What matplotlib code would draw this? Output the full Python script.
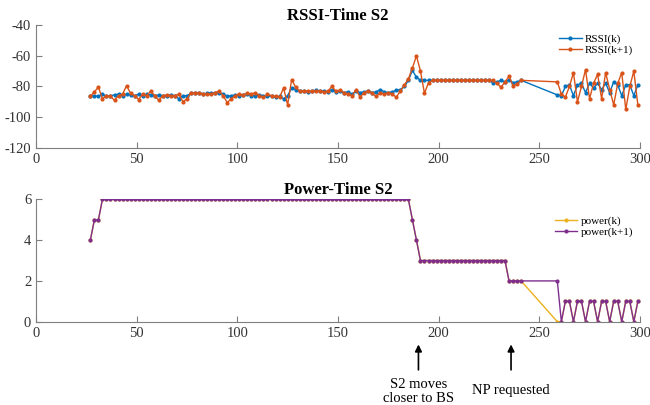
import numpy as np
import matplotlib
matplotlib.use("Agg")
import matplotlib.pyplot as plt

plt.rcParams['font.family'] = ['Liberation Serif', 'DejaVu Serif']
plt.rcParams['axes.unicode_minus'] = False

# ---- time samples ----
t = list(range(27, 242, 2)) + list(range(259, 300, 2))

# ---- RSSI(k) ----
rssi_k = [
    -86.5, -86, -86.5, -85, -86.5, -86, -85.5, -85, -86, -85,      # 27-45
    -85.5, -86, -85, -86, -85, -85.5, -86, -85.5, -86, -86,        # 47-65
    -85.5, -86, -88, -86, -86, -84.5, -84, -84, -85, -84.5,        # 67-85
    -84, -84.5, -84, -85, -86.5, -86, -85.5, -86, -85.5, -85,      # 87-105
    -86, -86, -85.5, -86, -86.5, -86, -87, -86.5, -88, -86,        # 107-125
    -81, -82, -83, -83, -83.5, -83, -82.5, -83, -83, -83.5,        # 127-145
    -82, -83.5, -83, -84, -83.5, -85, -83, -84, -83.5, -83,        # 147-165
    -84, -83.5, -82, -83.5, -84, -83.5, -82.5, -82, -80, -76,      # 167-185
    -69.5, -74, -76, -76, -76, -76, -76, -76, -76, -76,            # 187-205
    -76, -76, -76, -76, -76, -76, -76, -76, -76, -76,              # 207-225
    -77.5, -77, -76, -77, -76, -77.5, -77, -76,                    # 227-241
    -85.5, -86, -80, -79, -86, -79, -78, -84, -78, -81,            # 259-277
    -78, -82, -78, -84, -77, -79, -86, -79, -79, -86, -79,         # 279-299
]

# ---- RSSI(k+1) ----
rssi_k1 = [
    -86.5, -83.5, -80.5, -88, -86, -86.5, -89, -86, -85, -79.5,    # 27-45
    -84.5, -86, -88.5, -85, -86, -83, -86, -89, -86, -85.5,        # 47-65
    -86, -86, -85, -90, -88, -84, -84.5, -84, -85, -85,            # 67-85
    -85, -84, -83, -86, -90.5, -88, -86, -85, -85.5, -84.5,        # 87-105
    -85, -84, -86, -87, -85, -86, -86.5, -87, -81, -92,            # 107-125
    -75.5, -80.5, -83, -83, -83, -83, -83, -83, -83.5, -83,        # 127-145
    -80, -83, -82.5, -84, -85, -86, -82, -87, -84, -83,            # 147-165
    -84.5, -86.5, -84, -85, -84, -85, -87, -83, -79, -75,          # 167-185
    -68, -60, -70, -84.5, -77.5, -76, -76, -76, -76, -76,          # 187-205
    -76, -76, -76, -76, -76, -76, -76, -76, -76, -76,              # 207-225
    -76, -78, -80.5, -77, -73.5, -79.5, -78.5, -76,                # 227-241
    -77, -85, -87, -80, -71, -90, -80, -69, -88, -78,              # 259-277
    -72, -88, -71, -82, -92, -78, -71, -95, -80, -70, -92,         # 279-299
]

# ---- power(k+1) ----
power_k1 = ([4, 5, 5] + [6] * 77 + [5, 4] + [3] * 22 + [2] * 4 +
            [2, 0, 1, 1, 0, 1, 1, 0, 1, 1, 0, 1, 1, 0, 1, 1, 0, 1, 1, 0, 1])
# ---- power(k) ----
power_k = list(power_k1)
power_k[t.index(259)] = 0

BLUE = '#0072BD'
ORANGE = '#D95319'
YELLOW = '#EDB120'
PURPLE = '#7E2F8E'
SPINE = '#7f7f7f'
TXT = '#333333'

fig = plt.figure(figsize=(6.5, 4.05), dpi=100)
ax1 = fig.add_axes([0.0554, 0.635, 0.929, 0.303])
ax2 = fig.add_axes([0.0554, 0.2057, 0.929, 0.302])

def style(ax):
    for s in ['top', 'right']:
        ax.spines[s].set_visible(False)
    for s in ['left', 'bottom']:
        ax.spines[s].set_color(SPINE)
        ax.spines[s].set_linewidth(0.8)
    ax.tick_params(direction='in', length=4, width=0.8, colors=SPINE,
                   labelcolor=TXT, labelsize=10.5)
    ax.set_xlim(0, 300)
    ax.set_xticks([0, 50, 100, 150, 200, 250, 300])

style(ax1)
ax1.plot(t, rssi_k, '.-', color=BLUE, lw=1.0, ms=4, label='RSSI(k)')
ax1.plot(t, rssi_k1, '.-', color=ORANGE, lw=1.0, ms=4, label='RSSI(k+1)')
ax1.set_ylim(-120, -40)
ax1.set_yticks([-120, -100, -80, -60, -40])
ax1.set_title('RSSI-Time S2', fontsize=12, fontweight='bold', pad=4)
ax1.legend(loc='upper right', frameon=False, fontsize=8, handlelength=2.0,
           borderaxespad=0.2, labelspacing=0.1, handletextpad=0.3,
           bbox_to_anchor=(1.0, 0.98))

style(ax2)
ax2.plot(t, power_k, '.-', color=YELLOW, lw=1.0, ms=4, label='power(k)')
ax2.plot(t, power_k1, '.-', color=PURPLE, lw=1.0, ms=4, label='power(k+1)')
ax2.set_ylim(0, 6)
ax2.set_yticks([0, 2, 4, 6])
ax2.set_title('Power-Time S2', fontsize=12, fontweight='bold', pad=4)
ax2.legend(loc='upper right', frameon=False, fontsize=8, handlelength=2.0,
           borderaxespad=0.2, labelspacing=0.1, handletextpad=0.3,
           bbox_to_anchor=(1.0, 0.92))

arrow = dict(arrowstyle='-|>', color='black', lw=1.2, mutation_scale=10)
ax2.annotate('', xy=(190, -0.98), xytext=(190, -2.5), arrowprops=arrow,
             annotation_clip=False)
ax2.annotate('', xy=(236, -0.98), xytext=(236, -2.5), arrowprops=arrow,
             annotation_clip=False)
ax2.text(190, -2.75, 'S2 moves\ncloser to BS', ha='center', va='top',
         fontsize=10.5, color='black', linespacing=1.1, clip_on=False)
ax2.text(236, -3.05, 'NP requested', ha='center', va='top',
         fontsize=10.5, color='black', clip_on=False)

fig.savefig('out.png', dpi=100)
